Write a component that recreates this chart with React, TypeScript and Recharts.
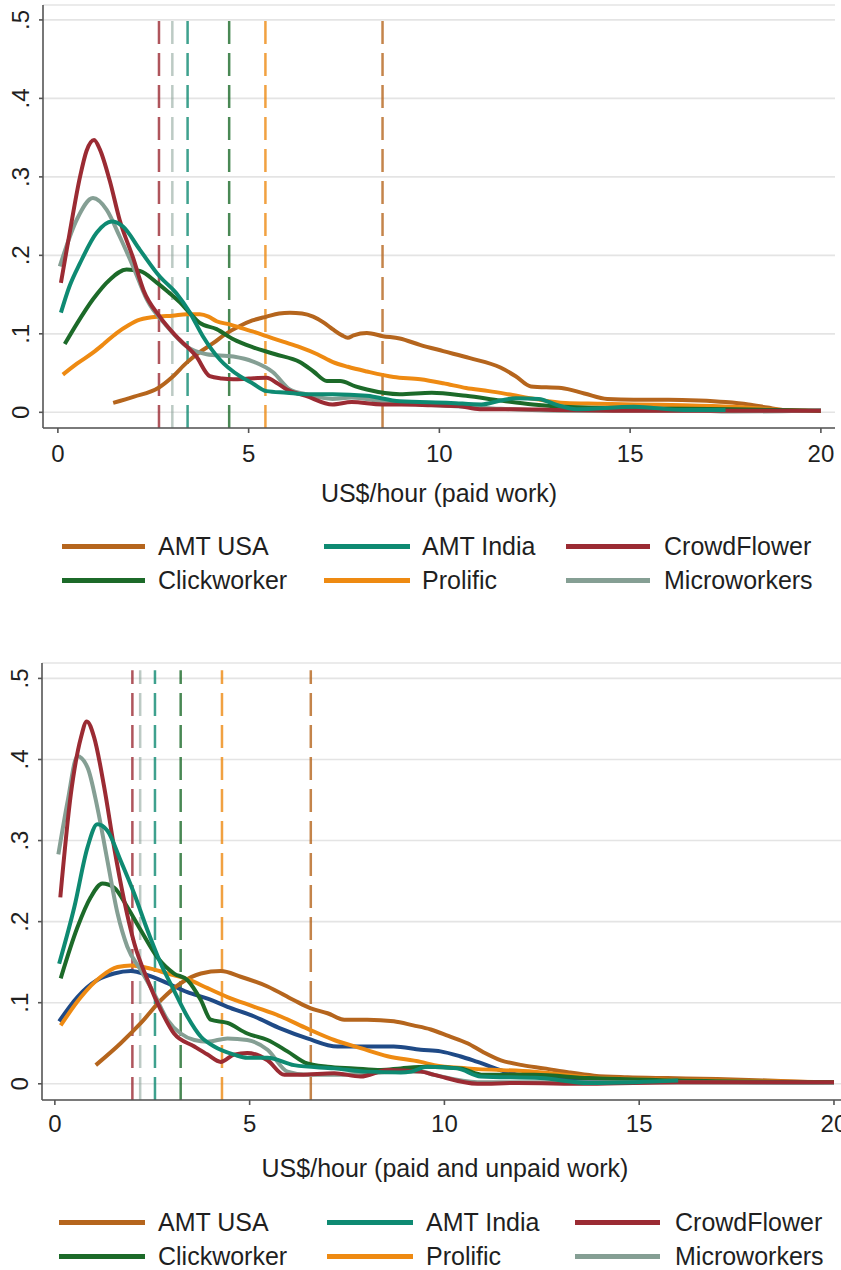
import React from "react";
import { LineChart, Line, XAxis, YAxis, CartesianGrid, ReferenceLine } from "recharts";

const FONT = "'Liberation Sans', Arial, Helvetica, sans-serif";

// ---------- categories / tick labels ----------
const SERIES_NAMES = ["AMT USA", "AMT India", "CrowdFlower", "Clickworker", "Prolific", "Microworkers"];
const X_TICKS = [0, 5, 10, 15, 20];
const Y_TICKS = [0, 0.1, 0.2, 0.3, 0.4, 0.5];
const Y_TICK_LABELS = ["0", ".1", ".2", ".3", ".4", ".5"];
const X_TITLE_PAID = "US$/hour (paid work)";
const X_TITLE_ALL = "US$/hour (paid and unpaid work)";

// ---------- Panel 1: paid work (density estimates) ----------
const PAID_AMT_USA: [number, number][] = [[1.45,0.012],[2.0,0.02],[2.63,0.031],[3.0,0.045],[3.37,0.063],[3.7,0.076],[4.07,0.088],[4.4,0.1],[4.77,0.11],[5.1,0.117],[5.47,0.122],[5.8,0.126],[6.08,0.127],[6.4,0.126],[6.69,0.122],[6.95,0.115],[7.2,0.106],[7.45,0.098],[7.6,0.095],[7.75,0.098],[8.1,0.101],[8.52,0.097],[8.96,0.094],[9.49,0.086],[10.1,0.078],[10.8,0.069],[11.6,0.057],[12.0,0.046],[12.4,0.033],[13.2,0.031],[13.8,0.024],[14.4,0.017],[15.1,0.016],[16.0,0.016],[16.8,0.015],[17.5,0.013],[18.1,0.01],[18.6,0.006],[19.0,0.003],[20.0,0.002]];
const PAID_AMT_INDIA: [number, number][] = [[0.08,0.127],[0.3,0.16],[0.58,0.19],[1.02,0.229],[1.41,0.243],[1.7,0.237],[2.15,0.207],[2.67,0.173],[3.1,0.152],[3.46,0.127],[3.8,0.097],[4.25,0.067],[4.77,0.046],[5.1,0.037],[5.47,0.027],[6.0,0.025],[6.5,0.023],[7.2,0.023],[8.1,0.021],[8.96,0.014],[10.3,0.012],[11.1,0.01],[11.6,0.015],[12.0,0.018],[12.6,0.017],[13.1,0.009],[13.6,0.004],[15.1,0.007],[16.4,0.003],[17.5,0.003]];
const PAID_CROWDFLOWER: [number, number][] = [[0.08,0.165],[0.31,0.229],[0.58,0.3],[0.75,0.333],[0.95,0.347],[1.1,0.335],[1.36,0.295],[1.62,0.245],[1.97,0.197],[2.25,0.155],[2.67,0.122],[3.1,0.097],[3.63,0.071],[3.98,0.046],[4.3,0.043],[4.6,0.042],[5.0,0.043],[5.47,0.044],[5.75,0.037],[6.0,0.029],[6.5,0.021],[7.2,0.01],[7.7,0.013],[8.5,0.01],[9.0,0.01],[9.8,0.009],[10.5,0.008],[11.06,0.004],[12.0,0.004],[13.0,0.003],[15.0,0.002],[19.0,0.002],[20.0,0.002]];
const PAID_CLICKWORKER: [number, number][] = [[0.18,0.087],[0.5,0.113],[0.92,0.144],[1.36,0.169],[1.8,0.182],[2.15,0.18],[2.6,0.165],[2.9,0.153],[3.2,0.14],[3.45,0.127],[3.72,0.114],[4.16,0.106],[4.6,0.093],[5.1,0.083],[5.7,0.074],[6.34,0.064],[6.7,0.052],[7.05,0.04],[7.4,0.04],[7.8,0.033],[8.1,0.029],[8.96,0.023],[9.8,0.025],[10.7,0.021],[11.6,0.015],[12.45,0.01],[13.8,0.006],[15.1,0.005],[17.7,0.004],[20.0,0.002]];
const PAID_PROLIFIC: [number, number][] = [[0.13,0.048],[0.5,0.062],[0.92,0.076],[1.2,0.087],[1.54,0.101],[1.85,0.111],[2.15,0.118],[2.67,0.122],[3.0,0.123],[3.38,0.125],[3.72,0.125],[3.95,0.122],[4.16,0.116],[4.5,0.112],[4.77,0.108],[5.1,0.103],[5.47,0.097],[5.9,0.09],[6.34,0.083],[6.8,0.074],[7.21,0.064],[7.6,0.058],[8.1,0.052],[8.8,0.045],[9.5,0.042],[10.1,0.037],[10.7,0.031],[11.3,0.027],[11.8,0.023],[12.5,0.017],[13.3,0.012],[14.2,0.011],[15.1,0.01],[16.4,0.009],[17.7,0.007],[19.0,0.003],[20.0,0.002]];
const PAID_MICROWORKERS: [number, number][] = [[0.05,0.186],[0.5,0.246],[0.92,0.273],[1.28,0.258],[1.62,0.224],[1.97,0.186],[2.33,0.144],[2.85,0.11],[3.37,0.084],[3.9,0.074],[4.6,0.071],[5.1,0.065],[5.64,0.051],[6.08,0.029],[6.5,0.023],[7.2,0.017],[7.7,0.019],[8.5,0.014],[8.96,0.012],[10.3,0.008],[11.4,0.005],[13.2,0.002],[16.8,0.002],[17.7,0.001],[19.5,0.002],[20.0,0.003]];
// means (dashed lines): AMT USA, AMT India, CrowdFlower, Clickworker, Prolific, Microworkers
const PAID_MEANS = [8.51, 3.4, 2.65, 4.49, 5.44, 3.0];

// ---------- Panel 2: paid and unpaid work ----------
const ALL_AMT_USA: [number, number][] = [[1.05,0.023],[1.69,0.05],[2.21,0.075],[2.72,0.103],[3.23,0.124],[3.75,0.136],[4.26,0.139],[4.77,0.132],[5.46,0.12],[6.14,0.103],[6.57,0.093],[7.0,0.087],[7.43,0.079],[8.02,0.079],[8.7,0.077],[9.2,0.072],[9.65,0.067],[10.1,0.059],[10.59,0.05],[11.0,0.039],[11.45,0.029],[12.0,0.023],[12.56,0.019],[13.2,0.014],[13.84,0.01],[14.7,0.008],[15.72,0.007],[17.0,0.006],[18.3,0.004],[20.0,0.001]];
const ALL_AMT_INDIA: [number, number][] = [[0.11,0.148],[0.5,0.218],[0.84,0.292],[1.09,0.32],[1.35,0.312],[1.69,0.275],[2.04,0.234],[2.38,0.189],[2.72,0.148],[3.06,0.115],[3.4,0.083],[3.75,0.058],[4.09,0.046],[4.6,0.036],[4.94,0.032],[5.46,0.032],[6.14,0.023],[7.17,0.019],[8.02,0.015],[8.88,0.014],[9.14,0.015],[9.56,0.021],[10.33,0.019],[10.93,0.009],[12.47,0.007],[13.7,0.001],[14.9,0.002],[16.0,0.004]];
const ALL_CROWDFLOWER: [number, number][] = [[0.14,0.23],[0.41,0.357],[0.67,0.427],[0.82,0.447],[1.01,0.427],[1.27,0.365],[1.52,0.292],[1.78,0.226],[2.04,0.173],[2.38,0.128],[2.72,0.091],[3.06,0.062],[3.58,0.046],[3.92,0.036],[4.26,0.027],[4.6,0.036],[4.94,0.038],[5.46,0.029],[5.89,0.011],[6.3,0.011],[7.17,0.013],[7.85,0.009],[8.54,0.017],[9.4,0.015],[9.74,0.011],[10.85,0.0],[11.88,0.001],[13.7,0.0],[16.0,0.002],[20.0,0.002]];
const ALL_CLICKWORKER: [number, number][] = [[0.15,0.13],[0.58,0.193],[0.92,0.23],[1.22,0.247],[1.52,0.242],[1.86,0.218],[2.21,0.189],[2.63,0.156],[3.06,0.136],[3.4,0.128],[3.75,0.103],[4.0,0.079],[4.43,0.075],[4.94,0.062],[5.46,0.054],[5.97,0.04],[6.48,0.025],[7.0,0.021],[7.68,0.019],[8.37,0.017],[8.88,0.019],[9.56,0.021],[10.4,0.019],[11.0,0.011],[12.3,0.011],[13.7,0.007],[16.0,0.004],[20.0,0.002]];
const ALL_PROLIFIC: [number, number][] = [[0.15,0.072],[0.67,0.107],[1.18,0.132],[1.61,0.144],[1.95,0.146],[2.46,0.142],[2.89,0.136],[3.4,0.129],[3.92,0.118],[4.43,0.107],[5.12,0.095],[5.8,0.083],[6.48,0.068],[7.17,0.054],[7.85,0.044],[8.54,0.034],[9.39,0.027],[9.74,0.023],[10.59,0.019],[12.3,0.015],[14.0,0.007],[16.6,0.004],[20.0,0.002]];
const ALL_MICROWORKERS: [number, number][] = [[0.09,0.283],[0.33,0.349],[0.58,0.404],[0.84,0.39],[1.09,0.341],[1.35,0.275],[1.61,0.21],[1.86,0.169],[2.21,0.14],[2.55,0.111],[2.89,0.079],[3.23,0.062],[3.58,0.054],[3.92,0.052],[4.43,0.056],[4.94,0.054],[5.46,0.042],[5.97,0.015],[6.48,0.011],[7.17,0.011],[8.02,0.013],[9.39,0.015],[9.74,0.011],[10.85,0.002],[13.2,0.002],[20.0,0.001]];
const ALL_OVERALL: [number, number][] = [[0.11,0.077],[0.58,0.107],[1.09,0.128],[1.52,0.136],[1.95,0.139],[2.38,0.134],[2.89,0.124],[3.4,0.113],[3.92,0.105],[4.43,0.095],[5.12,0.083],[5.8,0.068],[6.48,0.056],[7.25,0.046],[8.02,0.046],[8.7,0.046],[9.39,0.042],[9.9,0.04],[10.4,0.034],[10.85,0.027],[11.7,0.013],[12.73,0.007],[14.0,0.004],[16.0,0.003],[18.0,0.002],[20.0,0.001]];
const ALL_MEANS = [6.57, 2.57, 1.99, 3.23, 4.29, 2.19];

// ---------- styling ----------
const COLORS = ["#B5651D", "#0E8A72", "#9B2B33", "#1C6A29", "#EE8A12", "#859F94"];
const OVERALL_COLOR = "#1F4A86";
const TEXT = "#1f1f1f";
const AXIS = "#555555";
const GRID = "#e4e4e4";

const toPts = (arr: [number, number][]) => arr.map(([x, y]) => ({ x, y }));

const makeYTick = (cx: number) => (props: any) => {
  const { y, payload, index } = props;
  const i = Y_TICKS.indexOf(payload.value);
  const label = i >= 0 ? Y_TICK_LABELS[i] : String(payload.value);
  return (
    <text
      key={`yt-${index}`}
      x={cx}
      y={y}
      transform={`rotate(-90 ${cx} ${y})`}
      textAnchor="middle"
      fontSize={24}
      fill={TEXT}
      fontFamily={FONT}
    >
      {label}
    </text>
  );
};

type PanelProps = {
  width: number;
  height: number;
  margin: { top: number; right: number; left: number; bottom: number };
  xDomain: [number, number];
  xAxisHeight: number;
  tickMargin: number;
  titleOffset: number;
  title: string;
  series: [number, number][][];
  means: number[];
  overall?: [number, number][];
  yTickX: number;
};

const ORDER = [0, 4, 3, 5, 2, 1];

function Panel(p: PanelProps) {
  return (
    <LineChart width={p.width} height={p.height} margin={p.margin} style={{ fontFamily: FONT }}>
      <CartesianGrid horizontal vertical={false} stroke={GRID} strokeWidth={1.6} />
      <XAxis
        type="number"
        dataKey="x"
        domain={p.xDomain}
        ticks={X_TICKS}
        allowDataOverflow
        height={p.xAxisHeight}
        tickSize={5}
        tickMargin={p.tickMargin}
        axisLine={{ stroke: AXIS, strokeWidth: 1.6 }}
        tickLine={{ stroke: AXIS, strokeWidth: 1.6 }}
        tick={{ fontSize: 24, fill: TEXT, fontFamily: FONT }}
        interval={0}
        label={{ value: p.title, position: "insideTop", offset: p.titleOffset, fontSize: 25, fill: TEXT, fontFamily: FONT }}
      />
      <YAxis
        type="number"
        dataKey="y"
        domain={[-0.02, 0.519]}
        ticks={Y_TICKS}
        allowDataOverflow
        width={40}
        tickSize={4}
        axisLine={{ stroke: AXIS, strokeWidth: 1.6 }}
        tickLine={{ stroke: AXIS, strokeWidth: 1.6 }}
        tick={makeYTick(p.yTickX)}
        interval={0}
      />
      {p.means.map((m, i) => (
        <ReferenceLine
          key={`m-${i}`}
          segment={[{ x: m, y: -0.02 }, { x: m, y: 0.51 }]}
          stroke={COLORS[i]}
          strokeOpacity={i === 5 ? 0.55 : 0.8}
          strokeWidth={2.5}
          strokeDasharray="23 9"
          ifOverflow="visible"
        />
      ))}
      {p.overall && (
        <Line
          data={toPts(p.overall)}
          dataKey="y"
          type="monotone"
          stroke={OVERALL_COLOR}
          strokeWidth={4}
          dot={false}
          activeDot={false}
          isAnimationActive={false}
          legendType="none"
        />
      )}
      {ORDER.map((i) => (
        <Line
          key={SERIES_NAMES[i]}
          name={SERIES_NAMES[i]}
          data={toPts(p.series[i])}
          dataKey="y"
          type="monotone"
          stroke={COLORS[i]}
          strokeWidth={4}
          dot={false}
          activeDot={false}
          isAnimationActive={false}
        />
      ))}
    </LineChart>
  );
}

// legend layout: [SERIES index in rows of 3]
const LEGEND_ROWS = [
  [0, 1, 2],
  [3, 4, 5],
];

function LegendBlock(props: { top: number[]; lines: [number, number][]; texts: number[] }) {
  return (
    <>
      {LEGEND_ROWS.map((row, r) =>
        row.map((si, c) => (
          <React.Fragment key={`${r}-${c}`}>
            <div
              style={{
                position: "absolute",
                left: props.lines[c][0],
                width: props.lines[c][1] - props.lines[c][0],
                top: props.top[r] - 2,
                height: 4.5,
                background: COLORS[si],
              }}
            />
            <div
              style={{
                position: "absolute",
                left: props.texts[c],
                top: props.top[r] - 15,
                height: 30,
                lineHeight: "30px",
                fontSize: 25,
                fontFamily: FONT,
                color: TEXT,
                whiteSpace: "nowrap",
              }}
            >
              {SERIES_NAMES[si]}
            </div>
          </React.Fragment>
        ))
      )}
    </>
  );
}

export default function App() {
  return (
    <div
      style={{
        position: "absolute",
        left: 0,
        top: 0,
        width: 841,
        height: 1270,
        overflow: "hidden",
        background: "#ffffff",
      }}
    >
      <div style={{ position: "absolute", left: 0, top: 0 }}>
        <Panel
          width={841}
          height={520}
          margin={{ top: 5, right: 6, left: 3, bottom: 0 }}
          xDomain={[-0.39, 20.37]}
          xAxisHeight={92}
          tickMargin={12}
          titleOffset={56}
          title={X_TITLE_PAID}
          series={[PAID_AMT_USA, PAID_AMT_INDIA, PAID_CROWDFLOWER, PAID_CLICKWORKER, PAID_PROLIFIC, PAID_MICROWORKERS]}
          means={PAID_MEANS}
          yTickX={29}
        />
      </div>
      <LegendBlock top={[546, 580]} lines={[[62, 145], [324, 410], [566, 650]]} texts={[158, 422, 664]} />
      <div style={{ position: "absolute", left: 0, top: 600 }}>
        <Panel
          width={849}
          height={590}
          margin={{ top: 63, right: 1, left: 2, bottom: 0 }}
          xDomain={[-0.33, 20.36]}
          xAxisHeight={90}
          tickMargin={10}
          titleOffset={59}
          title={X_TITLE_ALL}
          series={[ALL_AMT_USA, ALL_AMT_INDIA, ALL_CROWDFLOWER, ALL_CLICKWORKER, ALL_PROLIFIC, ALL_MICROWORKERS]}
          means={ALL_MEANS}
          overall={ALL_OVERALL}
          yTickX={28}
        />
      </div>
      <LegendBlock top={[1222, 1256]} lines={[[59, 145], [327, 413], [575, 660]]} texts={[158, 426, 675]} />
    </div>
  );
}
